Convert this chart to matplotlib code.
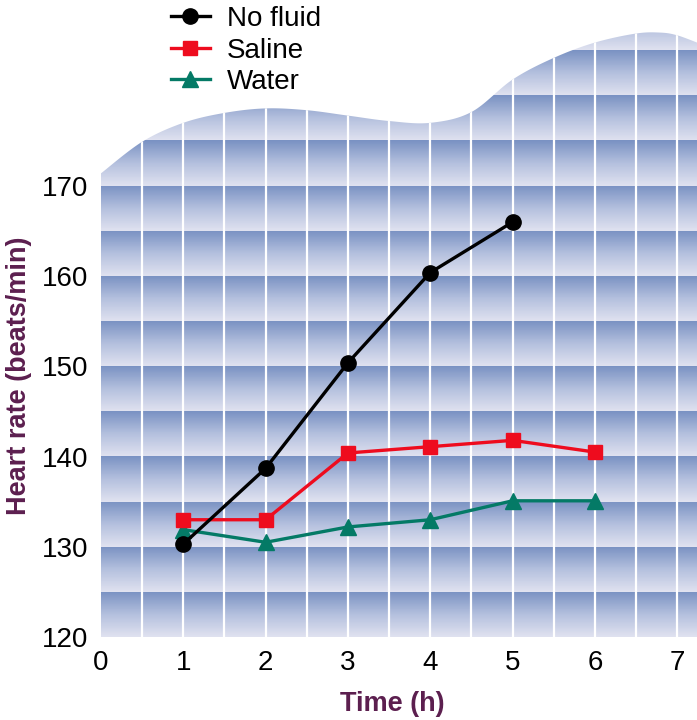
import numpy as np
import matplotlib
matplotlib.use("Agg")
import matplotlib.pyplot as plt
from matplotlib.colors import LinearSegmentedColormap
from matplotlib.path import Path
from matplotlib.patches import PathPatch

plt.rcParams['font.family'] = ['Liberation Sans', 'DejaVu Sans']

# data
hours = [1, 2, 3, 4, 5, 6]
no_fluid = [130.3, 138.7, 150.4, 160.4, 166.0]
saline = [133.0, 133.0, 140.4, 141.1, 141.8, 140.5]
water = [131.9, 130.5, 132.2, 133.0, 135.1, 135.1]

# wavy top outline of the decorative background (x in hours, y in beats/min)
wave_x = [0.0, 0.5, 1.0, 1.5, 2.0, 2.5, 3.0, 3.5, 4.0, 4.5, 5.0, 5.5, 6.0, 6.5, 6.8, 7.0, 7.24]
wave_y = [171.4, 174.9, 177.0, 178.1, 178.6, 178.4, 177.8, 177.2, 177.0, 178.2, 181.8, 184.2, 185.9, 186.9, 187.0, 186.7, 185.9]


def smooth(xs, ys, n=20):
    # catmull-rom through the outline points, just for a soft edge
    p = np.column_stack([xs, ys])
    p = np.vstack([p[0], p, p[-1]])
    out = []
    for i in range(1, len(p) - 2):
        p0, p1, p2, p3 = p[i - 1], p[i], p[i + 1], p[i + 2]
        for t in np.linspace(0, 1, n, endpoint=False):
            t2, t3 = t * t, t * t * t
            out.append(0.5 * (2 * p1 + (-p0 + p2) * t + (2 * p0 - 5 * p1 + 4 * p2 - p3) * t2
                              + (-p0 + 3 * p1 - 3 * p2 + p3) * t3))
    out.append(p[-2])
    return np.array(out)


xmax = 7.24
fig = plt.figure(figsize=(6.97, 7.2), dpi=100)
ax = fig.add_axes([101 / 697, 83 / 720, (697 - 101) / 697, (637 - 23.6) / 720])
ax.set_xlim(0, xmax)
ax.set_ylim(120, 188)

# background: 5-unit bands, dark at top fading to light at bottom
cmap = LinearSegmentedColormap.from_list("band", ["#e0e2f0", "#b4c0de", "#7a92c3"])
yy = np.linspace(120, 190, 1400)
frac = ((yy - 120) % 5) / 5.0
img = np.tile(frac[:, None], (1, 2))
im = ax.imshow(img, extent=[0, xmax, 120, 190], origin='lower', aspect='auto',
               cmap=cmap, vmin=0, vmax=1, interpolation='nearest', zorder=0)

edge = smooth(wave_x, wave_y)
verts = [(0, 120)] + [tuple(v) for v in edge] + [(xmax, 120), (0, 120)]
codes = [Path.MOVETO] + [Path.LINETO] * (len(verts) - 2) + [Path.CLOSEPOLY]
clip = PathPatch(Path(verts, codes), transform=ax.transData, facecolor='none', edgecolor='none')
ax.add_patch(clip)
im.set_clip_path(clip)

for xv in np.arange(0.5, 7.01, 0.5):
    ln = ax.axvline(xv, color='white', lw=1.6, zorder=1)
    ln.set_clip_path(clip)

# series
ax.plot(hours[:len(no_fluid)], no_fluid, color='black', lw=2.4, marker='o', ms=11, label='No fluid', zorder=5)
ax.plot(hours, saline, color='#ee0c1e', lw=2.4, marker='s', ms=10.5, label='Saline', zorder=4)
ax.plot(hours, water, color='#047a66', lw=2.4, marker='^', ms=11, label='Water', zorder=3)

for s in ax.spines.values():
    s.set_visible(False)
ax.set_xticks(range(0, 8))
ax.set_yticks(range(120, 171, 10))
ax.tick_params(length=0, labelsize=20, pad=9)

fig.text(392 / 697, 1 - 704 / 720, "Time (h)", fontsize=19.5, fontweight='bold',
         color='#5c1f4f', ha='center', va='center')
fig.text(19 / 697, 1 - 376 / 720, "Heart rate (beats/min)", fontsize=19.5, fontweight='bold',
         color='#5c1f4f', ha='center', va='center', rotation=90)

ax.legend(loc='upper left', bbox_to_anchor=(171 / 697, 1 - 6 / 720), bbox_transform=fig.transFigure,
          frameon=False, fontsize=20, handlelength=1.4, handletextpad=0.6,
          labelspacing=0.2, borderpad=0, borderaxespad=0)

fig.savefig("out.png", dpi=100)
